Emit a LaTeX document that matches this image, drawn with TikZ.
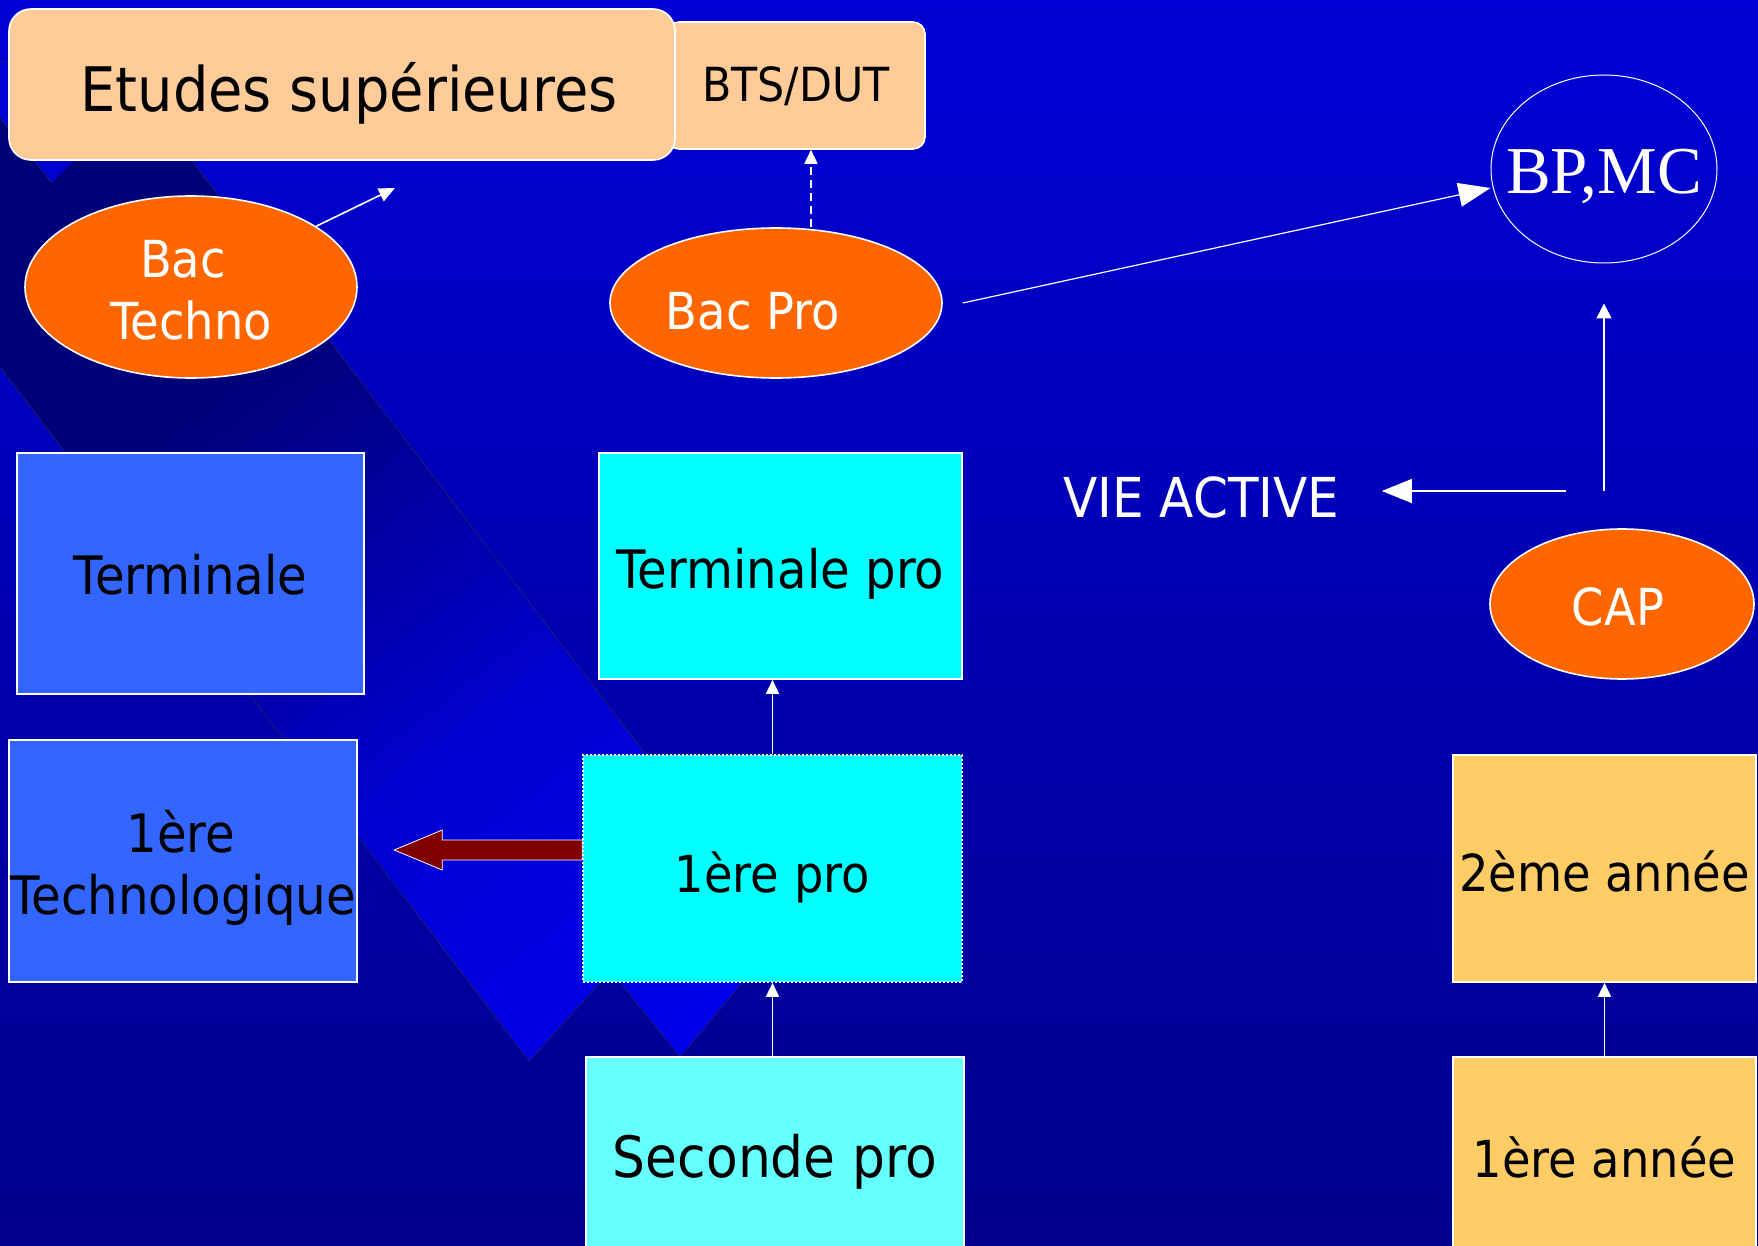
\documentclass[tikz,border=0pt]{standalone}
\usepackage{fontspec}
\setmainfont{DejaVu Sans}[FakeStretch=0.91]
\newfontfamily\serifbp{Liberation Serif}
\usetikzlibrary{arrows.meta,shapes.geometric}
\definecolor{bgtop}{RGB}{0,0,214}
\definecolor{bgbot}{RGB}{0,0,140}
\definecolor{bandline}{RGB}{30,30,112}
\definecolor{peach}{RGB}{255,204,153}
\definecolor{boxblue}{RGB}{51,102,255}
\definecolor{cyanbox}{RGB}{0,255,255}
\definecolor{lightcyan}{RGB}{102,255,255}
\definecolor{goldbox}{RGB}{255,204,102}
\definecolor{orangebac}{RGB}{255,102,0}
\definecolor{darkredarrow}{RGB}{128,0,0}
% text whose baseline lies #1 below the node centre, taking no room
\newcommand\basetxt[2]{\raisebox{-#1}[0pt][0pt]{\makebox[0pt]{#2}}}
\begin{document}
\begin{tikzpicture}[x=0.5pt,y=-0.5pt,
  txt/.style={font=\fontsize{25.5pt}{31pt}\selectfont, align=center, inner sep=0pt},
  bigtxt/.style={font=\fontsize{26.5pt}{31pt}\selectfont},
  peachbox/.style={draw=white, line width=0.8pt, fill=peach, rounded corners=#1, inner sep=0pt, text=black},
  plainbox/.style={draw=white, line width=0.8pt, fill=#1, rectangle, inner sep=0pt, text=black, txt},
  bacell/.style={ellipse, draw=white, line width=0.8pt, fill=orangebac, inner sep=0pt, text=white, txt},
  conn/.style={draw=white, line width=0.8pt, -{Triangle[length=7pt,width=6.5pt]}},
  bigconn/.style={draw=white, line width=0.6pt, -{Triangle[length=16pt,width=12pt]}},
  blockarrow/.style={fill=darkredarrow, draw=white, line width=0.4pt}
]
\useasboundingbox (0,0) rectangle (1758,1246);
% background
\shade[top color=bgtop, bottom color=bgbot] (0,0) rectangle (1758,1246);
% decorative band
\begin{scope}
\clip (52,183) -- (-100,-7) -- (-285,-7) -- (529,1061) -- (611,971) -- (680,1057) -- (783,934) -- (141,94) -- cycle;
\foreach \i in {0,...,69} {
  \pgfmathsetmacro\sa{-400+\i*25}
  \pgfmathsetmacro\sb{\sa+27}
  \pgfmathsetmacro\va{max(0,min(90,0.2*(\sa-250)))}
  \pgfmathsetmacro\vb{max(0,min(32,0.0711*(\sa-700)))}
  \pgfmathtruncatemacro\bv{120+\va+\vb}
  \definecolor{slicecol}{RGB}{0,0,\bv}
  \fill[slicecol] ({52+0.607*\sa+0.795*1500},{183+0.795*\sa-0.607*1500})
    -- ({52+0.607*\sa-0.795*1500},{183+0.795*\sa+0.607*1500})
    -- ({52+0.607*\sb-0.795*1500},{183+0.795*\sb+0.607*1500})
    -- ({52+0.607*\sb+0.795*1500},{183+0.795*\sb-0.607*1500}) -- cycle;
}
\end{scope}
\draw[bandline, line width=0.4pt] (52,183) -- (-100,-7) (-285,-7) -- (529,1061) -- (611,971) -- (680,1057) -- (783,934) -- (141,94) -- cycle;

% top boxes
\node[peachbox=6pt, minimum width=129pt, minimum height=63.5pt, font=\fontsize{23.5pt}{28pt}\selectfont] (bts) at (796,85.5) {\basetxt{8.25pt}{BTS/DUT}};
\node[peachbox=11pt, minimum width=333pt, minimum height=75.5pt, font=\fontsize{30.7pt}{36pt}\selectfont] (etudes) at (342,84.5) {\basetxt{13.75pt}{\kern7pt Etudes supérieures}};

% ellipses
\node[bacell, minimum width=166pt, minimum height=91pt] (bactechno) at (191,287) {\basetxt{26.5pt}{\parbox[b]{170pt}{\centering Bac\kern8pt\\Techno}}};
\node[bacell, minimum width=166pt, minimum height=75pt] (bacpro) at (776,303) {\basetxt{13.3pt}{Bac Pro\kern23pt}};
\node[ellipse, draw=white, line width=0.5pt, inner sep=0pt, minimum width=113pt, minimum height=94pt, text=white, font=\serifbp\fontsize{33.5pt}{38pt}\selectfont] (bpmc) at (1604,169) {\basetxt{12.5pt}{BP,MC}};
\node[bacell, minimum width=132pt, minimum height=75pt] (cap) at (1622,604) {\basetxt{10.8pt}{CAP\kern4pt}};
\node[txt, text=white, font=\fontsize{27.5pt}{31pt}\selectfont, anchor=base west] (vie) at (1063,517) {VIE ACTIVE};

% boxes
\node[plainbox=boxblue, bigtxt, minimum width=173.5pt, minimum height=120.5pt] (term) at (190.5,573.5) {\basetxt{10.25pt}{Terminale}};
\node[plainbox=boxblue, bigtxt, minimum width=174pt, minimum height=121pt] (premtech) at (183,861) {\basetxt{26.5pt}{\parbox[b]{180pt}{\centering 1ère\kern2pt\\Technologique}}};
\node[plainbox=cyanbox, bigtxt, minimum width=181.5pt, minimum height=113pt] (termpro) at (780.5,566) {\basetxt{11.3pt}{Terminale pro}};
\node[plainbox=cyanbox, minimum width=189.5pt, minimum height=113.5pt, dash pattern=on 1pt off 1pt] (pp) at (772.5,868.5) {\basetxt{12pt}{1ère pro}};
\node[plainbox=lightcyan, minimum width=189pt, minimum height=101.5pt, font=\fontsize{28.5pt}{33pt}\selectfont] (sec) at (775,1158.5) {\basetxt{9.25pt}{Seconde pro}};
\node[plainbox=goldbox, minimum width=151.5pt, minimum height=113.5pt] (deux) at (1604.5,868.5) {\basetxt{11.5pt}{2ème année}};
\node[plainbox=goldbox, minimum width=151.5pt, minimum height=101.5pt] (un) at (1604.5,1158.5) {\basetxt{9.25pt}{1ère année}};

% free ends
\coordinate (upetudes) at (395,188);
\coordinate (capup) at (1604,491);
\coordinate (capleft) at (1566,491);

% connectors
\draw[conn, -{Triangle[length=8pt,width=7pt]}] (bactechno) -- (upetudes);
\draw[conn, dash pattern=on 4pt off 2.5pt] ([xshift=17.5pt]bacpro.north) -- ([xshift=7.5pt]bts.south);
\draw[bigconn] ([xshift=10pt]bacpro.east) -- ([yshift=-9.5pt]bpmc.west);
\draw[conn, -{Triangle[length=7.5pt,width=7.5pt]}] (capup) -- ([yshift=-20pt]bpmc.south);
\draw[bigconn, -{Triangle[length=15pt,width=12pt]}, shorten >=21pt] (capleft) -- (capleft -| vie.east);
\draw[conn] (pp.north) -- (pp.north |- termpro.south);
\draw[conn] (pp.south |- sec.north) -- (pp.south);
\draw[conn] (un.north) -- (deux.south);
\draw[blockarrow] ([yshift=4.25pt]pp.west) -- ++(-140,0) -- ++(0,10) -- ++(-48,-20) -- ++(48,-20) -- ++(0,10) -- ++(140,0) -- cycle;
\end{tikzpicture}
\end{document}
